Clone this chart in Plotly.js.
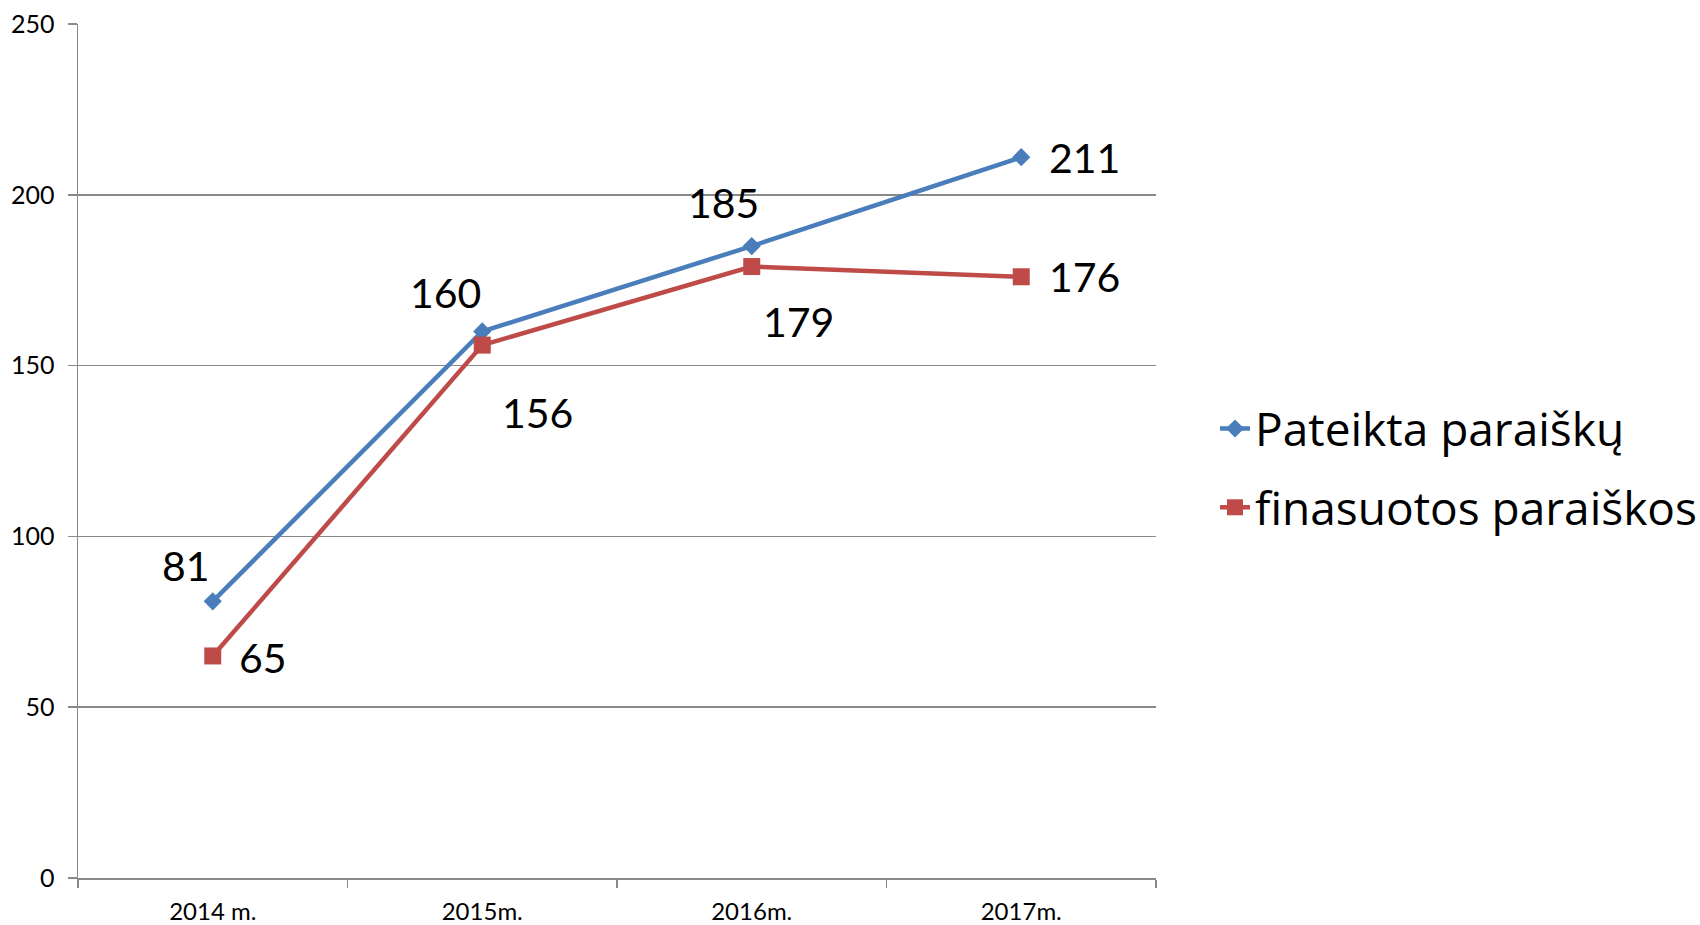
<!DOCTYPE html>
<html>
<head>
<meta charset="utf-8">
<script src="https://cdn.plot.ly/plotly-3.0.1.min.js"></script>
<style>html,body{margin:0;padding:0;background:#fff}#chart{width:1700px;height:925px}</style>
</head>
<body>
<div id="chart"></div>
<script>
const categories = ["2014 m.", "2015m.", "2016m.", "2017m."];
const pateikta = [81, 160, 185, 211];
const finansuotos = [65, 156, 179, 176];
const seriesNames = ["Pateikta paraiškų", "finasuotos paraiškos"];
const yTicks = [0, 50, 100, 150, 200, 250];

// label offsets (px) for data labels
const offA = [[-27, 36], [-37, 39], [-28, 44], [63, 0]];
const offB = [[50, -2], [55, -67], [47, -55], [63, 0]];

const FONT = "Lato, 'Open Sans', sans-serif";
const LFONT = "'Open Sans', Lato, sans-serif";
const BLUE = "#4A7EBB";
const RED = "#BE4B48";

const traces = [
  {
    x: categories, y: pateikta, name: seriesNames[0], type: "scatter", mode: "lines+markers",
    line: {color: BLUE, width: 4.5},
    marker: {symbol: "diamond", size: 14, color: BLUE},
    legendgroup: "a", cliponaxis: false
  },
  {
    x: categories, y: finansuotos, name: seriesNames[1], type: "scatter", mode: "lines+markers",
    line: {color: RED, width: 4.5},
    marker: {symbol: "square", size: 17, color: RED},
    legendgroup: "b", cliponaxis: false
  }
];

const annotations = [];
[[pateikta, offA], [finansuotos, offB]].forEach(([vals, offs]) => {
  vals.forEach((v, i) => {
    annotations.push({
      x: categories[i], y: v, xref: "x", yref: "y", text: String(v), showarrow: false,
      xshift: offs[i][0], yshift: offs[i][1],
      font: {family: FONT, size: 41, color: "#000"}
    });
  });
});

// plot area: 78..1156 px of a 78..1700 paper
const PW = 1700 - 78;

const layout = {
  width: 1700, height: 925,
  margin: {l: 78, r: 0, t: 24, b: 47, autoexpand: false},
  paper_bgcolor: "#fff", plot_bgcolor: "#fff",
  font: {family: FONT, color: "#000"},
  showlegend: true,
  legend: {
    x: (1215 - 78) / PW, y: 0.48, xanchor: "left", yanchor: "middle",
    font: {family: LFONT, size: 46, color: "#000"},
    tracegroupgap: 16, traceorder: "grouped",
    borderwidth: 0,
    bgcolor: "rgba(0,0,0,0)"
  },
  xaxis: {
    type: "category", range: [-0.5, 3.5], domain: [0, 1078 / PW],
    showgrid: false, showline: true, linecolor: "#898989", linewidth: 1.5,
    ticks: "outside", tickson: "boundaries", ticklen: 8, tickcolor: "#898989", tickwidth: 1.5,
    ticklabelstandoff: 12,
    tickfont: {family: FONT, size: 24, color: "#000"},
    zeroline: false, fixedrange: true
  },
  yaxis: {
    range: [0, 250], tickvals: yTicks, ticktext: yTicks.map(String),
    showgrid: true, gridcolor: "#898989", gridwidth: 1.5,
    showline: true, linecolor: "#898989", linewidth: 1.5,
    ticks: "outside", ticklen: 9, tickcolor: "#898989", tickwidth: 1.5,
    ticklabelstandoff: 8,
    tickfont: {family: FONT, size: 25, color: "#000"},
    zeroline: false, fixedrange: true
  },
  annotations: annotations
};

Plotly.newPlot("chart", traces, layout, {displayModeBar: false, staticPlot: true});
</script>
</body>
</html>
